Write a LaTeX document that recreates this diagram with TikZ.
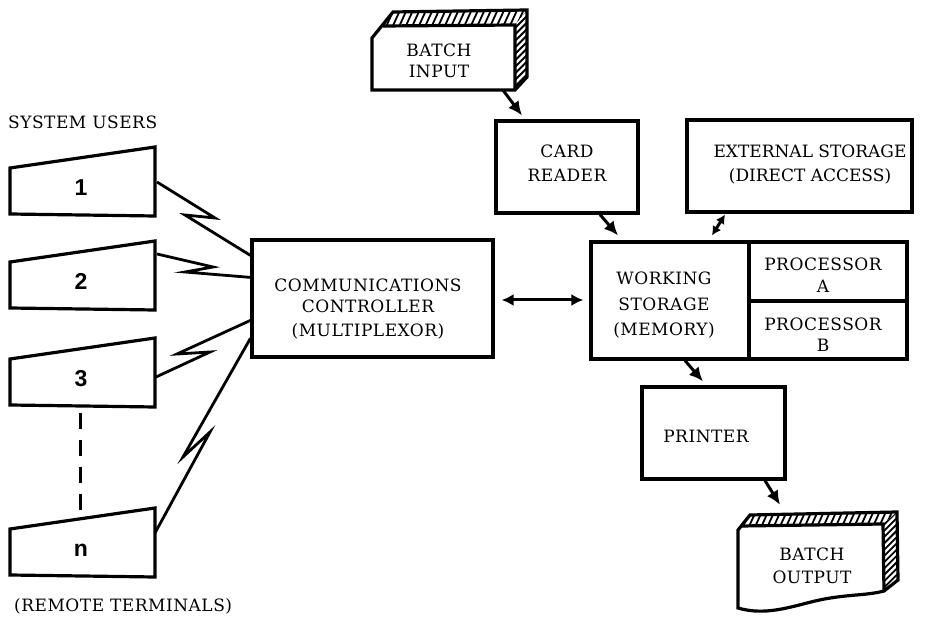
\documentclass[tikz,border=0pt]{standalone}
\usepackage{fontspec}
\setmainfont{DejaVu Serif}[LetterSpace=3]
\newfontfamily\tightserif{DejaVu Serif}
\newfontfamily\termfont{Liberation Sans}
\usetikzlibrary{arrows.meta}
\begin{document}
\begin{tikzpicture}[x=1pt,y=-1pt,
  txt/.style={font=\fontsize{17}{21}\selectfont, align=center, inner sep=0pt, anchor=base},
  unit/.style={draw, line width=3.2pt, inner sep=0pt},
  termnum/.style={font=\termfont\bfseries\fontsize{23}{23}\selectfont, inner sep=0pt, anchor=base},
  outline/.style={line width=3.2pt, line join=miter},
  bolt/.style={line width=2.8pt, line join=miter},
  arr/.style={line width=3pt, -{Latex[length=14pt,width=13pt]}},
  darr/.style={line width=3pt, {Latex[length=12pt,width=12pt]}-{Latex[length=12pt,width=12pt]}},
  shortdarr/.style={line width=3pt, {Latex[length=9pt,width=10pt]}-{Latex[length=9pt,width=10pt]}},
  hatch/.style={line width=1.8pt},
]
\useasboundingbox (0,0) rectangle (927,617);

% ---------- remote terminals ----------
\foreach \T/\lab/\nm in {147/1/t1, 241/2/t2, 338/3/t3, 508/n/tn} {
  \draw[outline] (10,\T+21) -- (155,\T) -- (155,\T+69) -- (10,\T+67) -- cycle;
  \node[termnum] (\nm) at (81,\T+49) {\lab};
}
\coordinate (t1r) at (157,182);
\coordinate (t2r) at (157,254);
\coordinate (t3r) at (156,377);
\coordinate (tnr) at (155,533);
\coordinate (t3b) at (80,413);
\coordinate (tnt) at (80,513);
\draw[line width=3pt, dash pattern=on 16pt off 11pt] (t3b) -- (tnt);

\node[txt, anchor=base west] (users) at (8,129) {SYSTEM USERS};
\node[txt, anchor=base west] (remote) at (14,611) {(REMOTE TERMINALS)};

% ---------- central units ----------
\node[unit, minimum width=241pt, minimum height=117pt] (cc) at (372.5,298.5) {};
\node[txt] (cctxt) at (368,337) {COMMUNICATIONS\\CONTROLLER\\[3pt](MULTIPLEXOR)};

\node[unit, minimum width=158pt, minimum height=117pt] (ws) at (670,300.5) {};
\node[txt] (wstxt) at (664,336) {WORKING\\[5pt]STORAGE\\[4pt](MEMORY)};
\node[unit, minimum width=158pt, minimum height=59pt] (pa) at (828,271.5) {};
\node[txt] (patxt) at (823,293) {PROCESSOR\\[1pt]A};
\node[unit, minimum width=158pt, minimum height=58pt] (pb) at (828,330) {};
\node[txt] (pbtxt) at (823,352) {PROCESSOR\\B};

\node[unit, minimum width=142pt, minimum height=92pt] (cr) at (567,167) {};
\node[txt] (crtxt) at (567,182) {CARD\\[3pt]READER};

\node[unit, minimum width=225pt, minimum height=92pt] (ext) at (799.5,166) {};
\node[txt, font=\tightserif\fontsize{17}{21}\selectfont] (exttxt) at (810,182)
  {EXTERNAL STORAGE\\[3pt](DIRECT ACCESS)};

\node[unit, minimum width=143pt, minimum height=92pt] (pr) at (713.5,433) {};
\node[txt] (prtxt) at (706,443) {PRINTER};

% ---------- batch input (punched card, with depth) ----------
\node[inner sep=0pt, minimum width=143pt, minimum height=64pt] (bin) at (443.5,58) {};
\begin{scope}
  \clip (383,26) -- (393,12) -- (527,10) -- (515,25) -- cycle;
  \foreach \i in {0,...,23} \draw[hatch] (378+6.5*\i,30) -- ++(11,-24);
\end{scope}
\begin{scope}
  \clip (515,25) -- (527,10) -- (527,77) -- (515,90) -- cycle;
  \foreach \i in {0,...,14} \draw[hatch] (510,20+6.5*\i) -- ++(20,-20);
\end{scope}
\draw[outline] (372,38) -- (393,12) -- (527,10) -- (527,77) -- (515,90) -- (372,90) -- cycle;
\draw[outline] (383,26) -- (515,25) -- (515,90);
\node[txt] (bintxt) at (439,78) {BATCH\\INPUT};

% ---------- batch output (document, with depth) ----------
\node[inner sep=0pt, minimum width=145pt, minimum height=85pt] (bout) at (810.5,566.5) {};
\begin{scope}
  \clip (741,526) -- (750,515) -- (897,512) -- (883,524) -- cycle;
  \foreach \i in {0,...,26} \draw[hatch] (735+6.2*\i,530) -- ++(10,-22);
\end{scope}
\begin{scope}
  \clip (883,524) -- (897,512) -- (898,580) -- (884,591) -- cycle;
  \foreach \i in {0,...,14} \draw[hatch] (878,518+6.3*\i) -- ++(22,-22);
\end{scope}
\draw[outline] (884,591) .. controls (865,596) and (845,594) .. (815,601)
  .. controls (790,607) and (765,616) .. (738,608) -- (738,530) -- (750,515)
  -- (897,512) -- (898,580) -- cycle;
\draw[outline] (741,526) -- (883,524) -- (884,591);
\node[txt] (bouttxt) at (812,583) {BATCH\\[2pt]OUTPUT};

% ---------- telephone lines from terminals ----------
\draw[bolt] (t1r) -- (215,218) -- (185,215) -- ([yshift=-17pt]cc.north west);
\draw[bolt] (t2r) -- (213,267) -- (185,272) -- ([yshift=-39pt]cc.north west);
\draw[bolt] (t3r) -- (210,352) -- (177,354) -- ([yshift=-82pt]cc.north west);
\draw[bolt] (tnr) -- (210,432) -- (183,457) -- ([yshift=-100pt]cc.north west);

% ---------- data flow ----------
\draw[darr] ([xshift=7pt,yshift=-1.5pt]cc.east) -- ([xshift=-6pt,yshift=0.5pt]ws.west);
\draw[arr] ([xshift=59.5pt]bin.south) -- ([xshift=-45pt,yshift=4pt]cr.north);
\draw[arr] ([xshift=33pt]cr.south) -- ([xshift=-52pt,yshift=5pt]ws.north);
\draw[shortdarr] ([xshift=-74.5pt,yshift=-1pt]ext.south) -- ([xshift=42pt,yshift=5pt]ws.north);
\draw[arr] ([xshift=15pt]ws.south) -- ([xshift=-10.5pt,yshift=4pt]pr.north);
\draw[arr] ([xshift=51.5pt]pr.south) -- ([xshift=-30.5pt,yshift=19pt]bout.north);
\end{tikzpicture}
\end{document}
